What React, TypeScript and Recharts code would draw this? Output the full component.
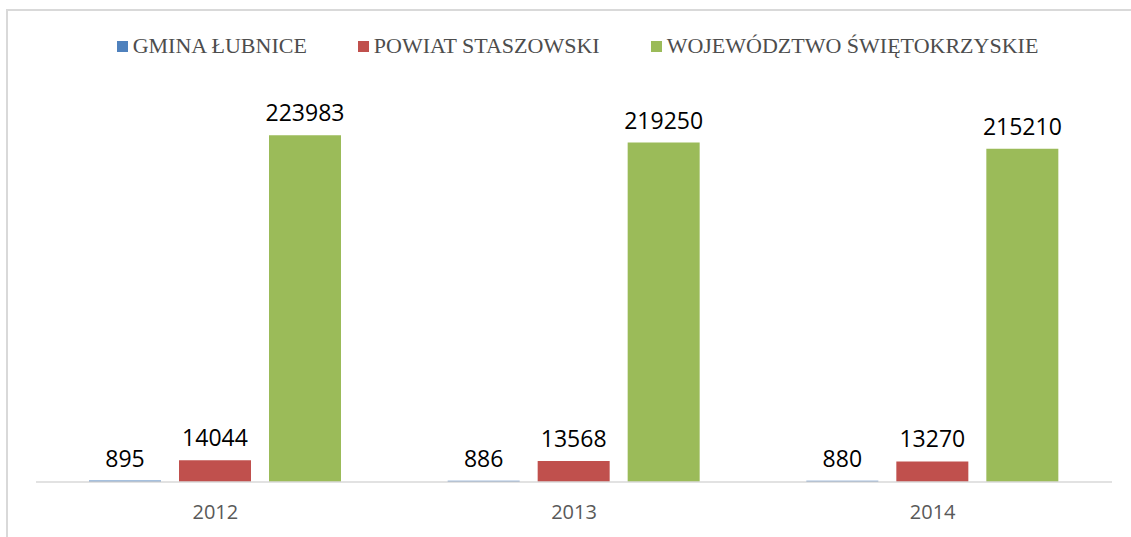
import { BarChart, Bar, XAxis, YAxis, Legend, LabelList } from 'recharts'

const YEARS = ['2012', '2013', '2014']
const GMINA = [895, 886, 880]
const POWIAT = [14044, 13568, 13270]
const WOJEWODZTWO = [223983, 219250, 215210]

const SERIES = [
  { key: 'gmina', name: 'GMINA ŁUBNICE', color: '#4f81bd' },
  { key: 'powiat', name: 'POWIAT STASZOWSKI', color: '#c0504d' },
  { key: 'woj', name: 'WOJEWÓDZTWO ŚWIĘTOKRZYSKIE', color: '#9bbb59' },
]

const data = YEARS.map((year, i) => ({
  year,
  gmina: GMINA[i],
  powiat: POWIAT[i],
  woj: WOJEWODZTWO[i],
}))

function LegendContent() {
  return (
    <div style={{ display: 'flex', justifyContent: 'center', gap: 51, fontFamily: '"Liberation Serif", "Times New Roman", serif', fontSize: 22, color: '#4d4d4d', lineHeight: '25px' }}>
      {SERIES.map(s => (
        <div key={s.key} style={{ display: 'flex', alignItems: 'center' }}>
          <span style={{ display: 'inline-block', flex: 'none', width: 11, height: 11, background: s.color, marginRight: 5, marginTop: 2 }} />
          <span>{s.name}</span>
        </div>
      ))}
    </div>
  )
}

export default function App() {
  return (
    <div style={{ position: 'absolute', left: 0, top: 0, width: 1131, height: 537, background: '#fff', overflow: 'hidden' }}>
      {/* outer frame, only top and left edges visible */}
      <div style={{ position: 'absolute', left: 6, top: 9, width: 1200, height: 600, borderTop: '2px solid #d9d9d9', borderLeft: '2px solid #d9d9d9' }} />
      <div style={{ position: 'absolute', left: 0, top: 0 }}>
        <BarChart width={1131} height={537} data={data} margin={{ top: 95, right: 19, bottom: 25, left: 36 }} barSize={72} barGap={18}>
          <XAxis
            dataKey="year"
            height={30}
            tickLine={false}
            tickSize={0}
            tickMargin={23}
            axisLine={{ stroke: '#d9d9d9', strokeWidth: 1.5 }}
            tick={{ fill: '#595959', fontSize: 20, fontFamily: '"Open Sans", sans-serif' }}
          />
          <YAxis hide domain={[0, 250000]} />
          <Legend
            verticalAlign="middle"
            align="center"
            content={<LegendContent />}
            wrapperStyle={{ top: 33, left: 12, width: 1131 }}
          />
          {SERIES.map(s => (
            <Bar key={s.key} dataKey={s.key} name={s.name} fill={s.color} isAnimationActive={false}>
              <LabelList dataKey={s.key} position="top" offset={14} style={{ fill: '#000', fontSize: 23, fontFamily: '"Open Sans", sans-serif' }} />
            </Bar>
          ))}
        </BarChart>
      </div>
    </div>
  )
}
